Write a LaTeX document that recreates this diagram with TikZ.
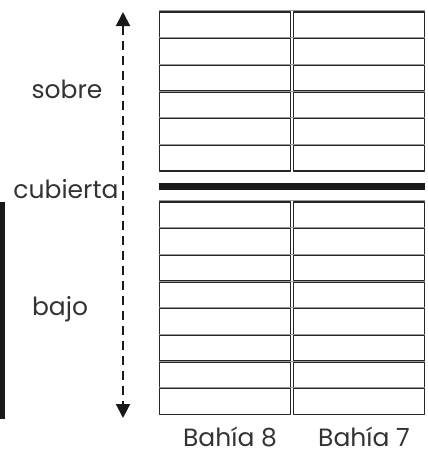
\documentclass[tikz,border=0pt]{standalone}
\usepackage{fontspec}
\setmainfont{Poppins}
\usetikzlibrary{arrows.meta}
\begin{document}
\begin{tikzpicture}[x=1pt,y=-1pt,line join=round,
    font=\fontsize{25}{28}\selectfont,
    caja/.style={draw=black!85,line width=1.1pt},
    borde/.style={draw=black!40,line width=0.8pt},
    etiqueta/.style={anchor=base,inner sep=0pt,text=black!80}]
\useasboundingbox (0,0) rectangle (428,461);
% bodega: sobre cubierta (6 filas) y bajo cubierta (8 filas)
\foreach \y in {12,38.7,...,146}{
  \draw[borde] (159,\y-1.2) -- (425,\y-1.2);
  \draw[caja] (159.5,\y) rectangle (290.5,\y+25.5);
  \draw[caja] (293.5,\y) rectangle (424.5,\y+25.5);
}
\foreach \y in {202,228.7,...,390}{
  \draw[borde] (159,\y-1.2) -- (425,\y-1.2);
  \draw[caja] (159.5,\y) rectangle (290.5,\y+25.5);
  \draw[caja] (293.5,\y) rectangle (424.5,\y+25.5);
}
\fill[black!90] (159,183) rectangle (425,190);
\fill[black!90] (0,202) rectangle (5,419);
% flecha vertical
\coordinate (arriba) at (123,12);
\coordinate (abajo) at (123,418);
\draw[black!90,line width=2pt,dash pattern=on 9pt off 6pt,
  {Triangle[length=14pt,width=14pt]}-{Triangle[length=14pt,width=14pt]}] (arriba) -- (abajo);
% textos
\node[etiqueta] (sobre) at (67,98) {sobre};
\node[etiqueta] (cubierta) at (66,198) {cubierta};
\node[etiqueta] (bajo) at (60,315) {bajo};
\node[etiqueta] (bahia8) at (230,446) {Bahía 8};
\node[etiqueta] (bahia7) at (364,446) {Bahía 7};
\end{tikzpicture}
\end{document}
